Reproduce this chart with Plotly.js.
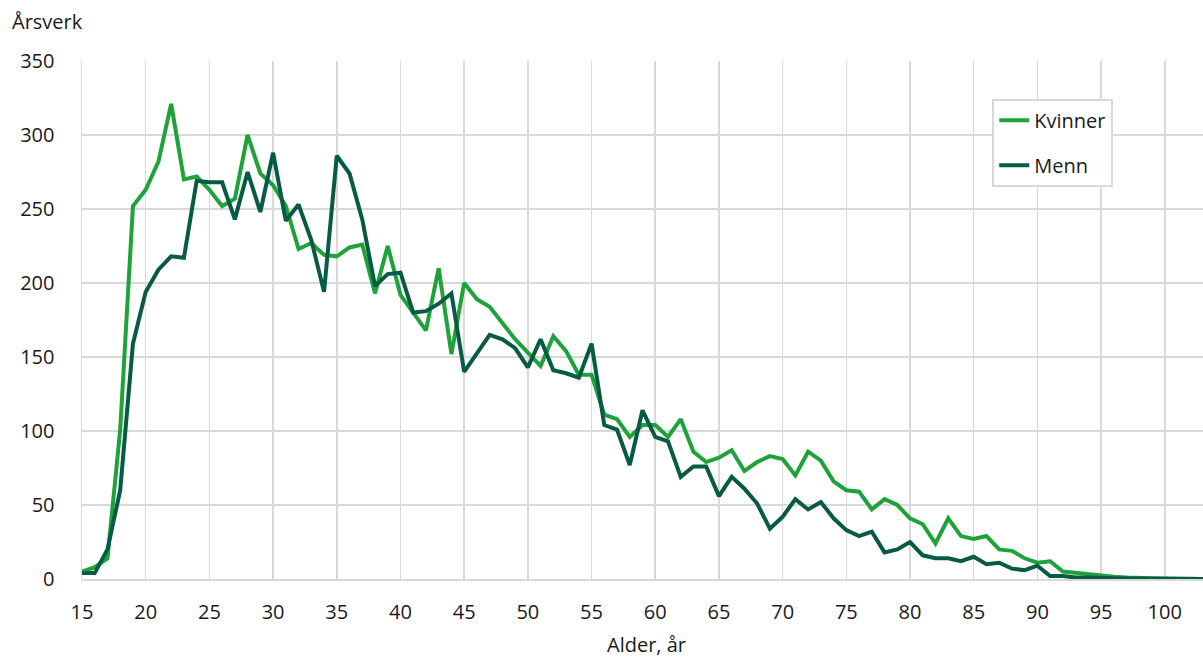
<!DOCTYPE html>
<html>
<head>
<meta charset="utf-8">
<script src="https://cdn.plot.ly/plotly-3.0.1.min.js"></script>
<style>html,body{margin:0;padding:0;background:#fff;}#chart{width:1203px;height:659px;}</style>
</head>
<body>
<div id="chart"></div>
<script>
const ages = [];
for (let a = 15; a <= 103; a++) ages.push(a);

const kvinner = [5, 8, 14, 101, 252, 263, 282, 321, 270, 272,
  263, 252, 257, 300, 274, 266, 252, 223, 227, 219,
  218, 224, 226, 193, 225, 192, 180, 168, 210, 152,
  200, 189, 184, 173, 162, 153, 144, 164, 154, 138,
  138, 111, 108, 96, 104, 104, 96, 108, 86, 79,
  82, 87, 73, 79, 83, 81, 70, 86, 80, 66,
  60, 59, 47, 54, 50, 41, 37, 24, 41, 29,
  27, 29, 20, 19, 14, 11, 12, 5, 4, 3,
  2, 1.5, 1, 1, 0.5, 0.3, 0.2, 0.1, 0];

const menn = [4, 4, 20, 60, 159, 194, 209, 218, 217, 269,
  268, 268, 243, 275, 248, 288, 242, 253, 229, 194,
  286, 274, 243, 198, 206, 207, 180, 181, 186, 193,
  140, 153, 165, 162, 156, 143, 162, 141, 139, 136,
  159, 104, 101, 77, 114, 96, 93, 69, 76, 76,
  56, 69, 61, 51, 34, 42, 54, 47, 52, 41,
  33, 29, 32, 18, 20, 25, 16, 14, 14, 12,
  15, 10, 11, 7, 6, 9, 2, 2, 1, 1,
  0.5, 0.5, 0.3, 0.2, 0, 0, 0, 0, 0];

const seriesNames = ["Kvinner", "Menn"];
const yTitle = "Årsverk";
const xTitle = "Alder, år";

const fontFam = '"Open Sans", "Noto Sans", sans-serif';
const textCol = '#1a1a1a';
const gridCol = '#d9d9d9';
const fs = 20;

const traces = [
  {x: ages, y: kvinner, name: seriesNames[0], type: 'scatter', mode: 'lines',
   line: {color: '#1fa23a', width: 4}, legendgroup: 'k', hoverinfo: 'x+y+name'},
  {x: ages, y: menn, name: seriesNames[1], type: 'scatter', mode: 'lines',
   line: {color: '#075a43', width: 4}, legendgroup: 'm', hoverinfo: 'x+y+name'}
];

const layout = {
  width: 1203, height: 659,
  margin: {l: 82, r: 0, t: 61, b: 80},
  paper_bgcolor: '#fff', plot_bgcolor: '#fff',
  font: {family: fontFam, size: fs, color: textCol},
  showlegend: true,
  legend: {
    x: 0.812, y: 0.927, xanchor: 'left', yanchor: 'top',
    bgcolor: '#fff', bordercolor: gridCol, borderwidth: 2,
    font: {family: fontFam, size: fs, color: textCol},
    traceorder: 'grouped', tracegroupgap: 16,
    entrywidth: 150, entrywidthmode: 'pixels'
  },
  xaxis: {
    range: [15, 103], tickmode: 'linear', tick0: 15, dtick: 5,
    showgrid: true, gridcolor: gridCol, gridwidth: 1.5,
    zeroline: false, showline: true, linecolor: gridCol, linewidth: 1.5,
    ticks: '', ticklabelstandoff: 14,
    tickfont: {family: fontFam, size: fs, color: textCol}
  },
  yaxis: {
    range: [0, 350], tickmode: 'linear', tick0: 0, dtick: 50,
    showgrid: true, gridcolor: gridCol, gridwidth: 1.5,
    zeroline: false, showline: true, linecolor: gridCol, linewidth: 1.5,
    ticks: '', ticklabelstandoff: 22,
    tickfont: {family: fontFam, size: fs, color: textCol}
  },
  annotations: [
    {text: yTitle, xref: 'paper', yref: 'paper', x: -0.0642, y: 1.077,
     xanchor: 'left', yanchor: 'middle', showarrow: false,
     font: {family: fontFam, size: fs, color: textCol}},
    {text: xTitle, xref: 'paper', yref: 'paper', x: 0.504, y: -0.127,
     xanchor: 'center', yanchor: 'middle', showarrow: false,
     font: {family: fontFam, size: fs, color: textCol}}
  ]
};

Plotly.newPlot('chart', traces, layout, {displayModeBar: false, staticPlot: true});
</script>
</body>
</html>
